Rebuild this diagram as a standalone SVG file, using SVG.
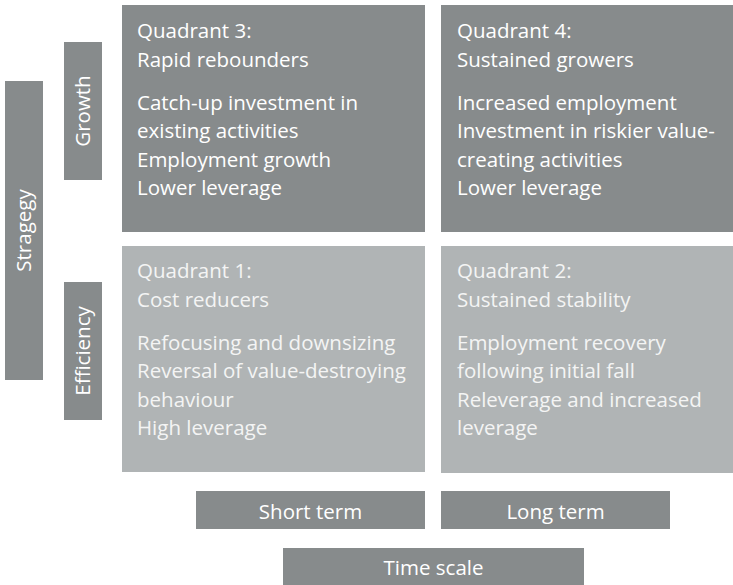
<svg xmlns="http://www.w3.org/2000/svg" width="733" height="585" viewBox="0 0 733 585">
<style>
.dark{fill:#878b8c}
.light{fill:#b0b4b5}
text{font-family:"Open Sans","Noto Sans",sans-serif;font-size:20.5px;fill:#ffffff}
.lt{fill:#f4f4f4}
.c{text-anchor:middle}
</style>
<rect width="733" height="585" fill="#ffffff"/>
<g id="strategy"><rect class="dark" x="5" y="81" width="38" height="299"/><text class="c" transform="translate(31,230.5) rotate(-90)">Stragegy</text></g>
<g id="growth"><rect class="dark" x="64" y="42" width="38" height="138"/><text class="c" transform="translate(90,111) rotate(-90)">Growth</text></g>
<g id="efficiency"><rect class="dark" x="64" y="282" width="38" height="138"/><text class="c" transform="translate(90,351) rotate(-90)">Efficiency</text></g>
<g id="q3"><rect class="dark" x="122" y="5" width="303" height="227"/>
<text x="137" y="38">Quadrant 3:</text><text x="137" y="67">Rapid rebounders</text>
<text x="137" y="110">Catch-up investment in</text><text x="137" y="138">existing activities</text><text x="137" y="167">Employment growth</text><text x="137" y="195">Lower leverage</text></g>
<g id="q4"><rect class="dark" x="441" y="5" width="303" height="227"/>
<text x="457" y="38">Quadrant 4:</text><text x="457" y="67">Sustained growers</text>
<text x="457" y="110">Increased employment</text><text x="457" y="138">Investment in riskier value-</text><text x="457" y="167">creating activities</text><text x="457" y="195">Lower leverage</text></g>
<g id="q1"><rect class="light" x="122" y="246" width="303" height="226"/>
<text class="lt" x="137" y="278">Quadrant 1:</text><text class="lt" x="137" y="307">Cost reducers</text>
<text class="lt" x="137" y="350">Refocusing and downsizing</text><text class="lt" x="137" y="378">Reversal of value-destroying</text><text class="lt" x="137" y="407">behaviour</text><text class="lt" x="137" y="435">High leverage</text></g>
<g id="q2"><rect class="light" x="441" y="246" width="303" height="227"/>
<text class="lt" x="457" y="278">Quadrant 2:</text><text class="lt" x="457" y="307">Sustained stability</text>
<text class="lt" x="457" y="350">Employment recovery</text><text class="lt" x="457" y="378">following initial fall</text><text class="lt" x="457" y="407">Releverage and increased</text><text class="lt" x="457" y="435">leverage</text></g>
<g id="short"><rect class="dark" x="196" y="491" width="229" height="38"/><text class="c" x="310.5" y="519">Short term</text></g>
<g id="long"><rect class="dark" x="441" y="491" width="229" height="38"/><text class="c" x="555.5" y="519">Long term</text></g>
<g id="timescale"><rect class="dark" x="283" y="548" width="301" height="37"/><text class="c" x="433.5" y="575">Time scale</text></g>
<g id="connectors"/>
</svg>
